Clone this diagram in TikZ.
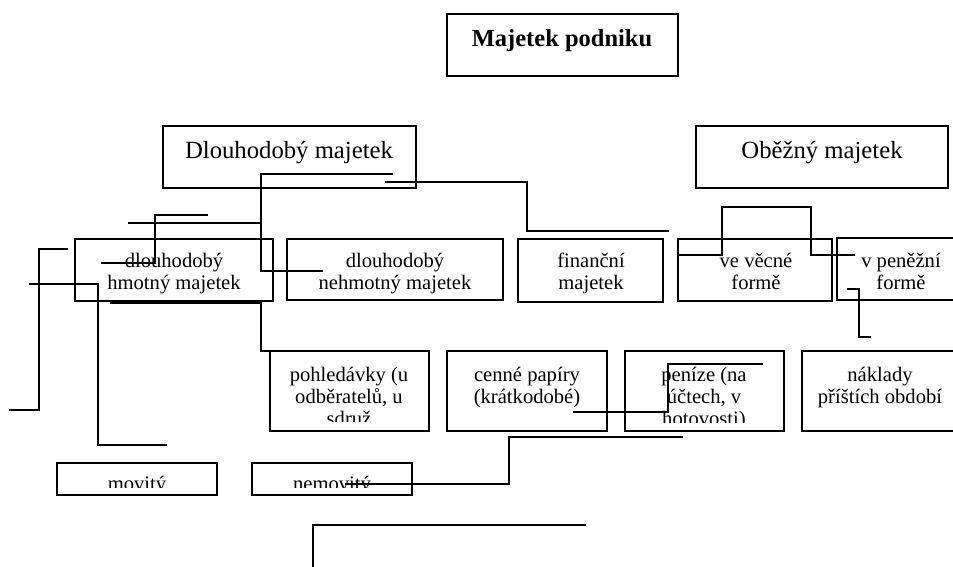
\documentclass[tikz,border=0pt]{standalone}
\usepackage{fontspec}
\setmainfont{Liberation Serif}
\begin{document}
\begin{tikzpicture}[x=1pt,y=-1pt,
  box/.style={draw, line width=1.2pt, inner sep=0pt, outer sep=0pt},
  conn/.style={line width=1.2pt},
  sm/.style={anchor=base, inner sep=0pt, font=\fontsize{20.6}{22}\selectfont},
  lg/.style={anchor=base, inner sep=0pt, font=\fontsize{24.7}{27}\selectfont},
  ttl/.style={anchor=base, inner sep=0pt, font=\fontsize{24.5}{27}\selectfont\bfseries}]
\useasboundingbox (0,0) rectangle (953,566);
% boxes
\node[box, minimum width=231pt, minimum height=62pt] (title) at (562.5,45) {};
\node[box, minimum width=253pt, minimum height=62pt] (dlm) at (289.5,157) {};
\node[box, minimum width=252pt, minimum height=62pt] (obm) at (822,157) {};
\node[box, minimum width=198pt, minimum height=62pt] (hm) at (174,270) {};
\node[box, minimum width=216pt, minimum height=61pt] (nm) at (395,269.5) {};
\node[box, minimum width=145pt, minimum height=63pt] (fm) at (590.5,270.5) {};
\node[box, minimum width=154pt, minimum height=62pt] (vf) at (755,270) {};
\node[box, minimum width=128pt, minimum height=62pt] (pf) at (901,269) {};
\node[box, minimum width=159pt, minimum height=80pt] (poh) at (349.5,391) {};
\node[box, minimum width=160pt, minimum height=80pt] (cp) at (527,391) {};
\node[box, minimum width=159pt, minimum height=80pt] (pen) at (704.5,391) {};
\node[box, minimum width=157pt, minimum height=80pt] (nak) at (880.5,391) {};
\node[box, minimum width=160pt, minimum height=32pt] (mov) at (137,479) {};
\node[box, minimum width=160pt, minimum height=32pt] (nem) at (332,479) {};
% texts
\node[ttl] (t0) at (562,46) {Majetek podniku};
\node[lg] (t1) at (289,158) {Dlouhodobý majetek};
\node[lg] (t2) at (822,158) {Oběžný majetek};
\node[sm] (t3a) at (174,267) {dlouhodobý};
\node[sm] (t3b) at (174,289) {hmotný majetek};
\node[sm] (t4a) at (395,267) {dlouhodobý};
\node[sm] (t4b) at (395,289) {nehmotný majetek};
\node[sm] (t5a) at (591,267) {finanční};
\node[sm] (t5b) at (591,289) {majetek};
\node[sm] (t6a) at (756,267) {ve věcné};
\node[sm] (t6b) at (756,289) {formě};
\node[sm] (t7a) at (901,267) {v peněžní};
\node[sm] (t7b) at (901,289) {formě};
\begin{scope}
\clip (271,352) rectangle (428,421);
\node[sm] (t8a) at (349,381) {pohledávky (u};
\node[sm] (t8b) at (349,403) {odběratelů, u};
\node[sm] (t8c) at (349,425) {sdruž};
\end{scope}
\node[sm] (t9a) at (527,381) {cenné papíry};
\node[sm] (t9b) at (527,403) {(krátkodobé)};
\begin{scope}
\clip (626,352) rectangle (783,422);
\node[sm] (t10a) at (704,381) {peníze (na};
\node[sm] (t10b) at (704,403) {účtech, v};
\node[sm] (t10c) at (704,425) {hotovosti)};
\end{scope}
\node[sm] (t11a) at (880,381) {náklady};
\node[sm] (t11b) at (880,403) {příštích období};
\begin{scope}
\clip (58,464) rectangle (216,487);
\node[sm] (t12) at (137,490) {movitý};
\end{scope}
\begin{scope}
\clip (253,464) rectangle (411,487);
\node[sm] (t13) at (332,490) {nemovitý};
\end{scope}
% connectors
\draw[conn] (393,174) -- (261,174) -- (261,223) -- (128,223);
\draw[conn] (200,223) -- (261,223) -- (261,271) -- (323,271);
\draw[conn] (208,215) -- (155,215) -- (155,263) -- (101,263);
\draw[conn] (385,182) -- (527,182) -- (527,231) -- (669,231);
\draw[conn] (68,249) -- (39,249) -- (39,410) -- (9,410);
\draw[conn] (29,284) -- (98,284) -- (98,445) -- (167,445);
\draw[conn] (110,303) -- (261,303) -- (261,351) -- (412,351);
\draw[conn] (678,255) -- (722,255) -- (722,207) -- (811,207) -- (811,255) -- (855,255);
\draw[conn] (847,289) -- (859,289) -- (859,337) -- (871,337);
\draw[conn] (763,364) -- (668,364) -- (668,412) -- (573,412);
\draw[conn] (683,437) -- (509,437) -- (509,484) -- (345,484);
\draw[conn] (586,525) -- (313,525) -- (313,570);
\end{tikzpicture}
\end{document}
